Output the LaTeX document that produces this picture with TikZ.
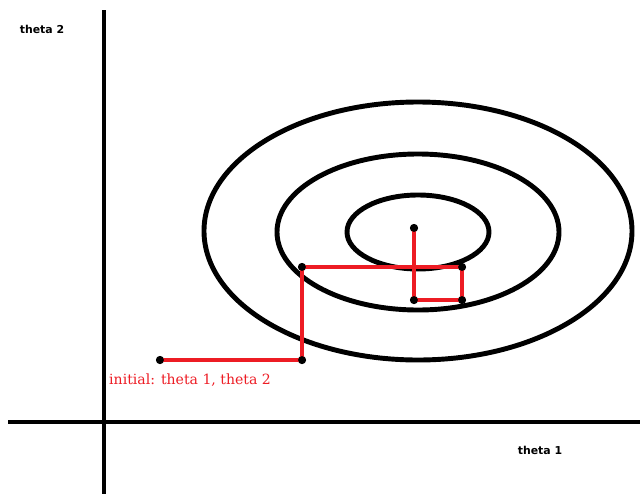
\documentclass[tikz,border=0pt]{standalone}
\usepackage{fontspec}
\setsansfont{DejaVu Sans}
\setmainfont{DejaVu Serif}
\definecolor{stepred}{RGB}{237, 28, 36}

\begin{document}
\begin{tikzpicture}[x=0.03cm, y=-0.03cm,
    dot/.style={circle, fill=black, inner sep=0pt, minimum size=7pt},
    axislabel/.style={font=\sffamily\bfseries\fontsize{9.3}{11}\selectfont}]
    \useasboundingbox (0,0) rectangle (640,494);

    % Axes
    \draw[line width=4.2pt] (104,10) -- (104,494);
    \draw[line width=4.2pt] (8,422) -- (640,422);
    \node[axislabel] at (42,29) {theta 2};
    \node[axislabel] at (540,450) {theta 1};

    % Contours
    \draw[line width=4.2pt] (418,231) ellipse [x radius=214, y radius=129];
    \draw[line width=4.2pt] (418,232) ellipse [x radius=141, y radius=78];
    \draw[line width=4.2pt] (418,232) ellipse [x radius=71, y radius=37];

    % Steps
    \node[dot] (p0) at (160,360) {};
    \node[dot] (p1) at (302,360) {};
    \node[dot] (p2) at (302,267) {};
    \node[dot] (p3) at (462,267) {};
    \node[dot] (p4) at (462,300) {};
    \node[dot] (p5) at (414,300) {};
    \node[dot] (p6) at (414,228) {};
    \draw[stepred, line width=3.4pt] (p0.center) -- (p1.center) -- (p2.center)
        -- (p3.center) -- (p4.center) -- (p5.center) -- (p6.center);
    \foreach \p in {p0,p1,p2,p3,p4,p5,p6} {
        \fill (\p) circle (3.3pt);
    }
    \node[text=stepred, anchor=west, inner sep=0pt, font=\fontsize{12}{14}\selectfont] (start) at (109,380) {initial: theta 1, theta 2};
\end{tikzpicture}
\end{document}
